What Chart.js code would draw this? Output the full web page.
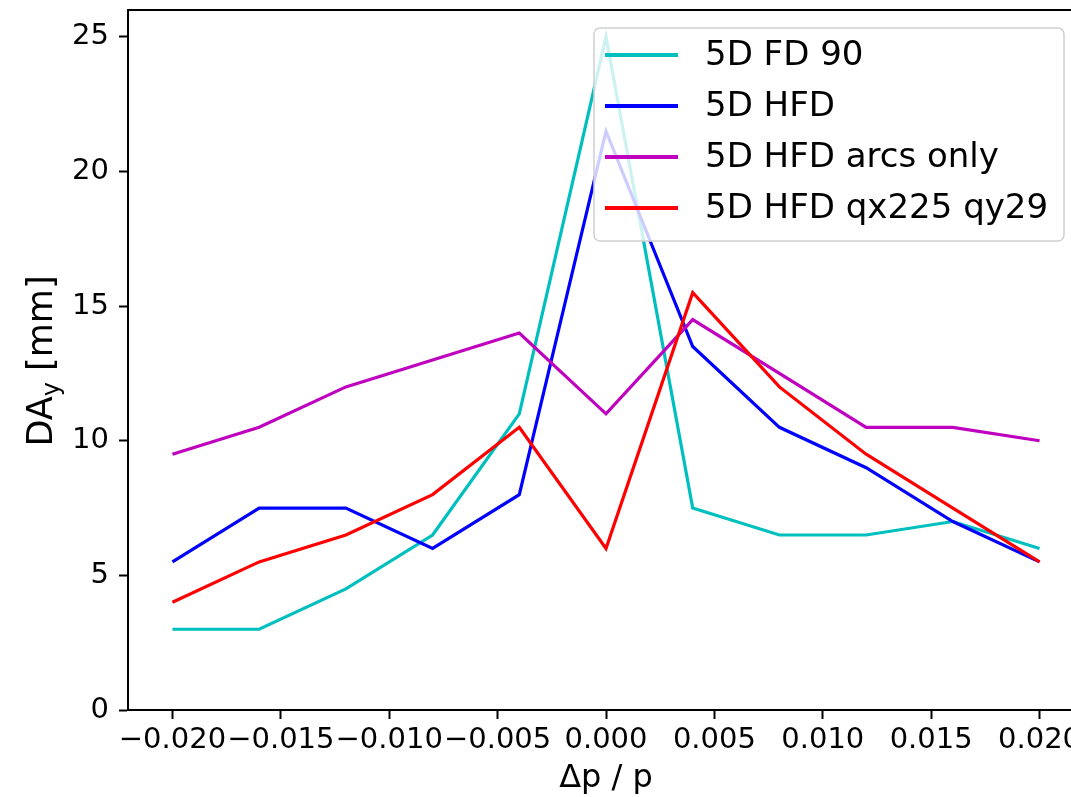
<!DOCTYPE html>
<html>
<head>
<meta charset="utf-8">
<script src="https://cdn.jsdelivr.net/npm/chart.js@4/dist/chart.umd.min.js"></script>
<style>
  html, body { margin: 0; padding: 0; background: #fff; overflow: hidden; }
  #wrap { position: absolute; left: 0; top: 0; width: 1100px; height: 797px; }
</style>
</head>
<body>
<div id="wrap"><canvas id="c"></canvas></div>
<script>
var dp = [-0.020, -0.016, -0.012, -0.008, -0.004, 0.000, 0.004, 0.008, 0.012, 0.016, 0.020];
var fd90      = [3.0, 3.0, 4.5, 6.5, 11.0, 25.0, 7.5, 6.5, 6.5, 7.0, 6.0];
var hfd       = [5.5, 7.5, 7.5, 6.0, 8.0, 21.5, 13.5, 10.5, 9.0, 7.0, 5.5];
var hfdArcs   = [9.5, 10.5, 12.0, 13.0, 14.0, 11.0, 14.5, 12.5, 10.5, 10.5, 10.0];
var hfdQ      = [4.0, 5.5, 6.5, 8.0, 10.5, 6.0, 15.5, 12.0, 9.5, 7.5, 5.5];
var xTicks = [-0.020, -0.015, -0.010, -0.005, 0.000, 0.005, 0.010, 0.015, 0.020];
var yTicks = [0, 5, 10, 15, 20, 25];

function pts(ys) {
  return ys.map(function (y, i) { return { x: dp[i], y: y }; });
}

var FONT = '"DejaVu Sans", sans-serif';

// top spine, axis titles and a matplotlib-ish legend box
var decor = {
  id: 'decor',
  afterDatasetsDraw: function (chart) {
    var ctx = chart.ctx, a = chart.chartArea;
    ctx.save();
    ctx.strokeStyle = '#000';
    ctx.lineWidth = 2;
    ctx.beginPath();
    ctx.moveTo(a.left, a.top);
    ctx.lineTo(a.right, a.top);
    ctx.stroke();

    // legend
    var bx = 594, by = 28, bw = 470, bh = 213, r = 6;
    ctx.beginPath();
    ctx.roundRect(bx, by, bw, bh, r);
    ctx.fillStyle = 'rgba(255,255,255,0.8)';
    ctx.fill();
    ctx.strokeStyle = '#d0d0d0';
    ctx.lineWidth = 1.5;
    ctx.stroke();
    ctx.font = '34px ' + FONT;
    ctx.textBaseline = 'middle';
    ctx.fillStyle = '#000';
    chart.data.datasets.forEach(function (ds, i) {
      var y = 55 + i * 51;
      ctx.strokeStyle = ds.borderColor;
      ctx.lineWidth = 4;
      ctx.beginPath();
      ctx.moveTo(605, y);
      ctx.lineTo(678, y);
      ctx.stroke();
      ctx.fillText(ds.label, 705, y + 1);
    });

    // x title
    ctx.font = '32px ' + FONT;
    ctx.textAlign = 'center';
    ctx.textBaseline = 'alphabetic';
    ctx.fillText('\u0394p / p', 606, 787);

    // y title with subscript
    ctx.translate(52, 361);
    ctx.rotate(-Math.PI / 2);
    ctx.textAlign = 'left';
    var big = '35px ' + FONT, small = '24px ' + FONT;
    ctx.font = big;
    var w1 = ctx.measureText('DA').width;
    var w3 = ctx.measureText(' [mm]').width;
    ctx.font = small;
    var w2 = ctx.measureText('y').width;
    var x0 = -(w1 + w2 + w3) / 2;
    ctx.font = big;
    ctx.fillText('DA', x0, 0);
    ctx.font = small;
    ctx.fillText('y', x0 + w1, 7);
    ctx.font = big;
    ctx.fillText(' [mm]', x0 + w1 + w2, 0);
    ctx.restore();
  }
};

function fmtX(v) {
  var s = Math.abs(v).toFixed(3);
  return (v < -1e-9 ? '\u2212' : '') + s;
}

function noPad(s) {
  s.paddingTop = 0; s.paddingBottom = 0; s.paddingLeft = 0; s.paddingRight = 0;
}

new Chart(document.getElementById('c'), {
  type: 'line',
  data: {
    datasets: [
      { label: '5D FD 90', data: pts(fd90), borderColor: '#00bfbf', order: 4 },
      { label: '5D HFD', data: pts(hfd), borderColor: '#0000ff', order: 3 },
      { label: '5D HFD arcs only', data: pts(hfdArcs), borderColor: '#bf00bf', order: 2 },
      { label: '5D HFD qx225 qy29', data: pts(hfdQ), borderColor: '#ff0000', order: 1 }
    ]
  },
  options: {
    responsive: true, maintainAspectRatio: false, animation: false,
    layout: { padding: { top: 10, right: 16, left: 0, bottom: 0 } },
    elements: {
      line: { borderWidth: 3.2, tension: 0, fill: false },
      point: { radius: 0, hoverRadius: 0 }
    },
    plugins: { legend: { display: false }, tooltip: { enabled: false } },
    scales: {
      x: {
        type: 'linear', min: -0.02205, max: 0.02205,
        afterBuildTicks: function (s) { s.ticks = xTicks.map(function (v) { return { value: v }; }); },
        afterFit: function (s) { s.height = 87; noPad(s); },
        grid: { drawOnChartArea: false, drawTicks: true, tickLength: 9, color: '#000', tickWidth: 2 },
        border: { color: '#000', width: 2 },
        ticks: { color: '#000', padding: 4, maxRotation: 0, autoSkip: false, font: { family: 'DejaVu Sans', size: 29 }, callback: fmtX }
      },
      y: {
        min: 0, max: 26,
        afterBuildTicks: function (s) { s.ticks = yTicks.map(function (v) { return { value: v }; }); },
        afterFit: function (s) { s.width = 128; noPad(s); },
        grid: { drawOnChartArea: false, drawTicks: true, tickLength: 9, color: '#000', tickWidth: 2 },
        border: { color: '#000', width: 2 },
        ticks: { color: '#000', padding: 10, font: { family: 'DejaVu Sans', size: 29 } }
      }
    }
  },
  plugins: [decor]
});
</script>
</body>
</html>
